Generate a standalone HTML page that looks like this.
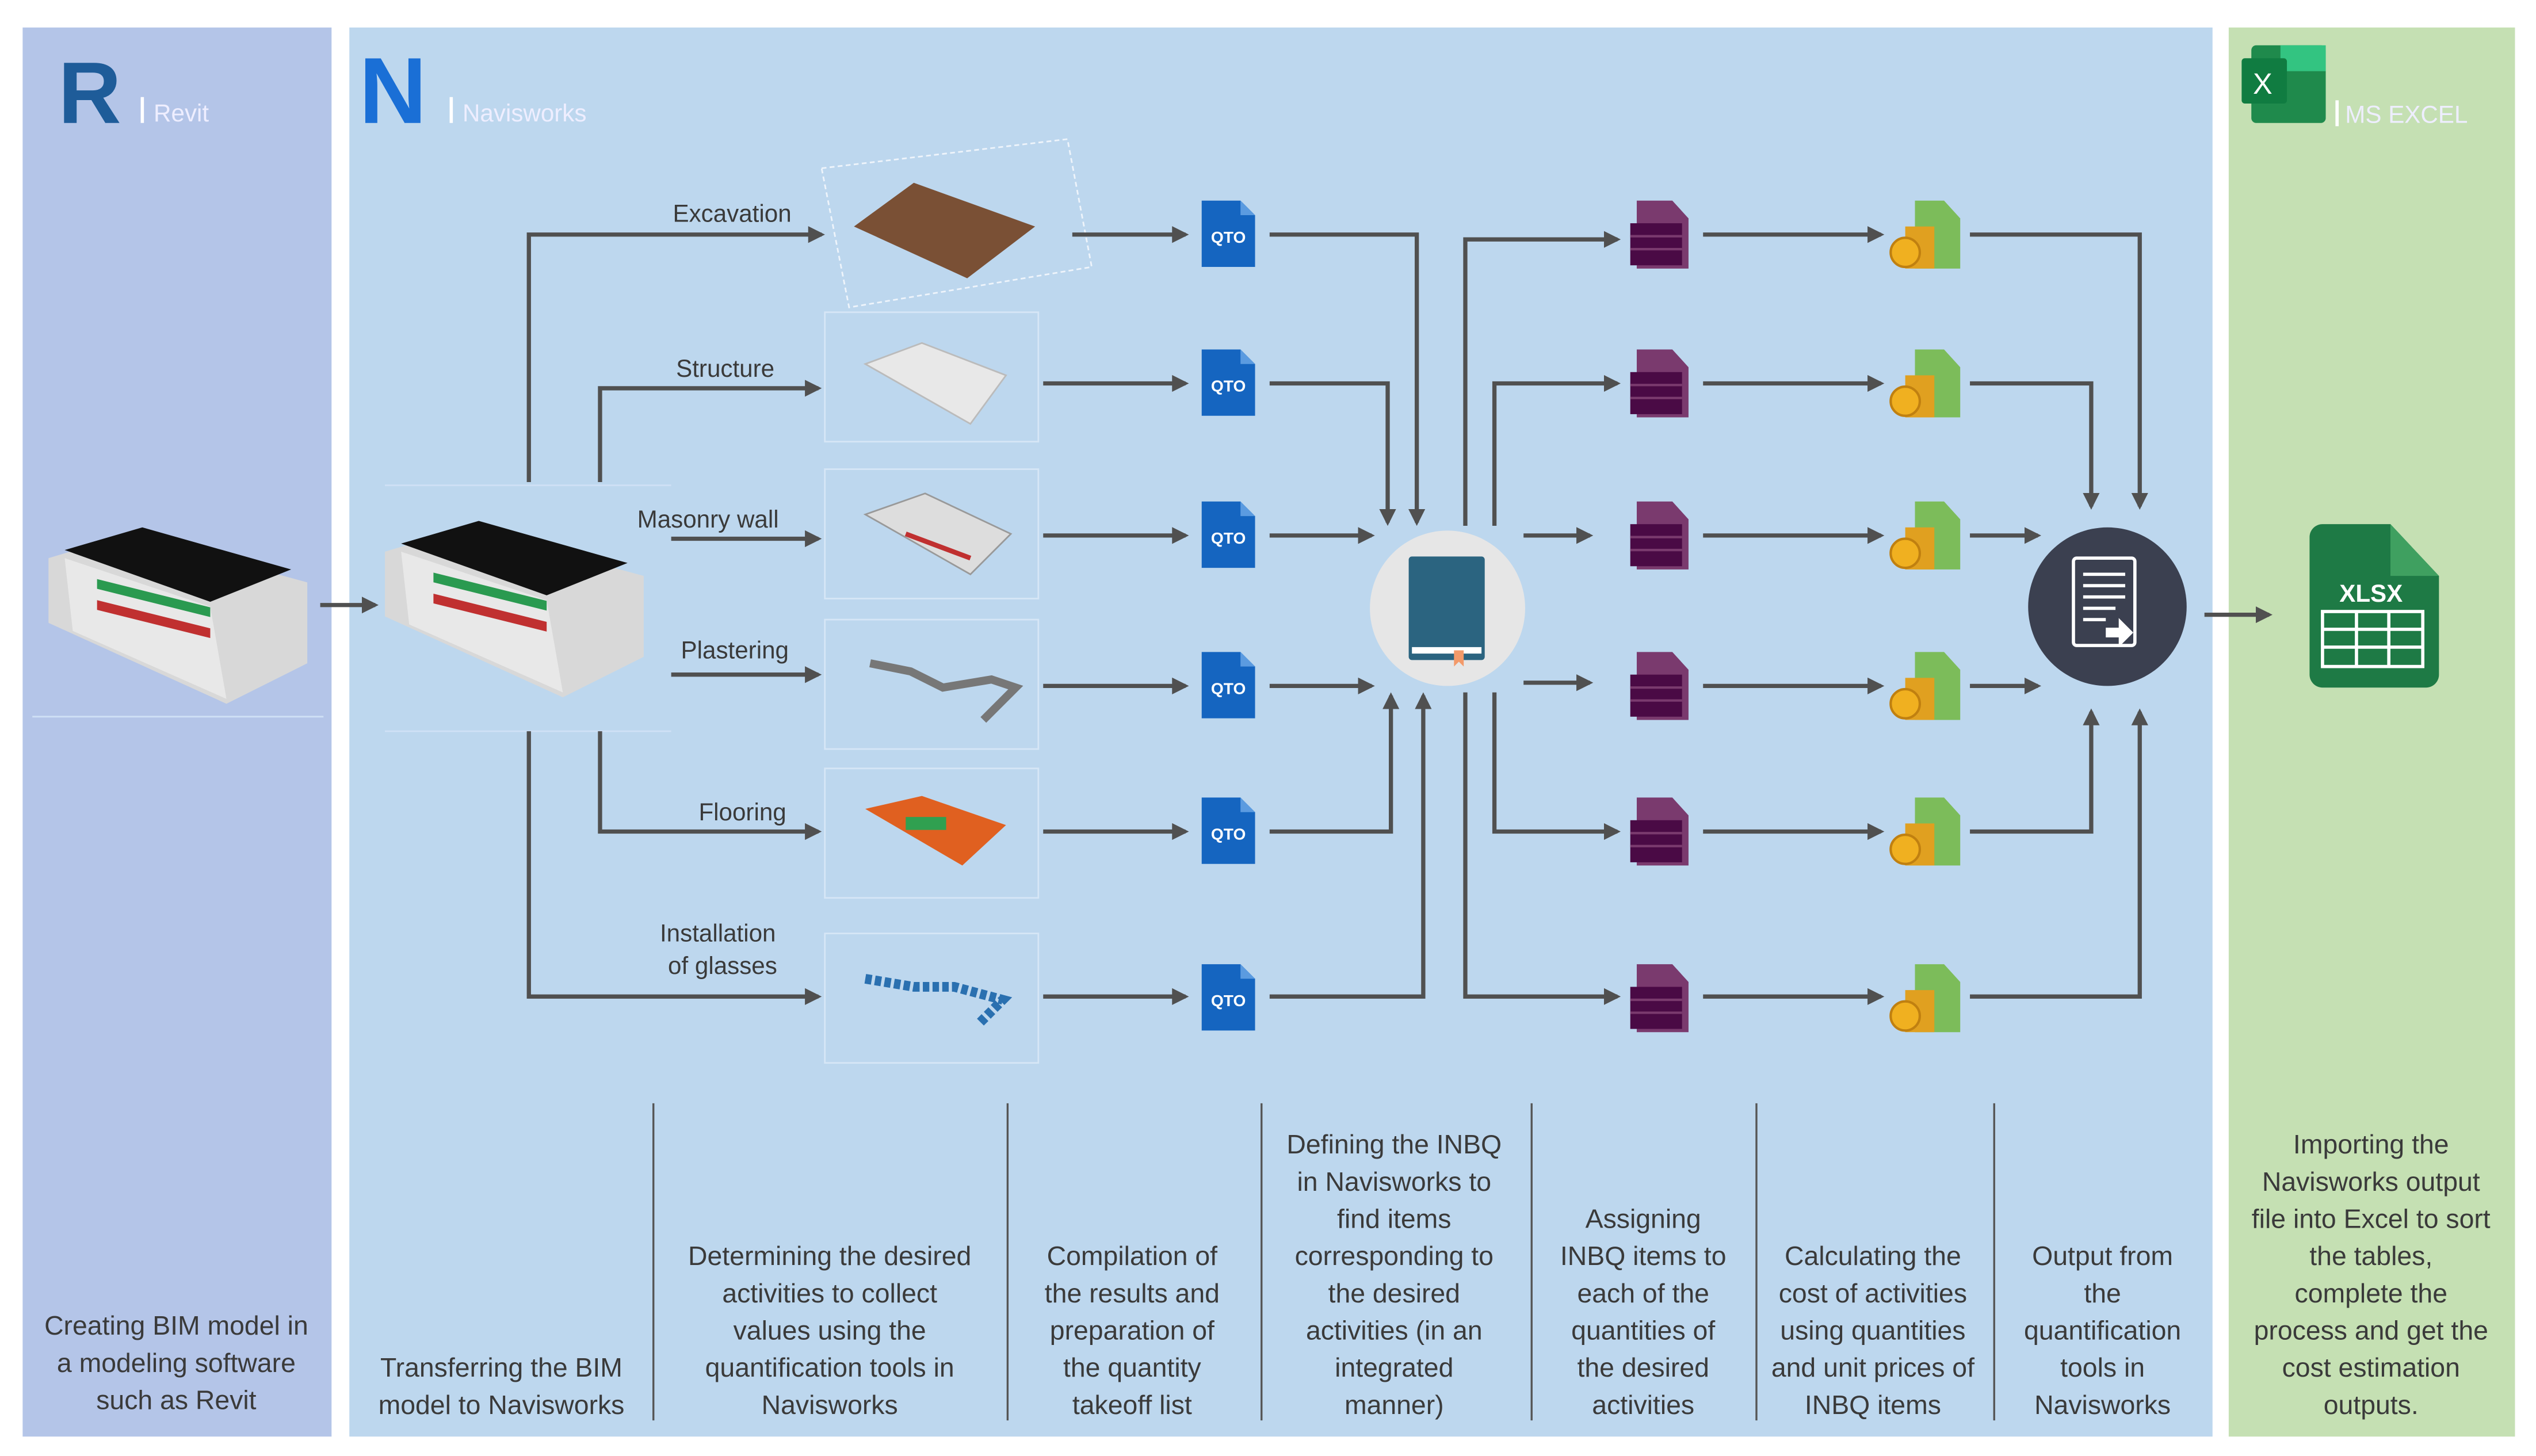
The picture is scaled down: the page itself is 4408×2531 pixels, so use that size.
<!DOCTYPE html>
<html><head><meta charset="utf-8">
<style>
html,body{margin:0;padding:0;background:#fff;}
svg{display:block;}
text{font-family:"Liberation Sans Narrow","Liberation Sans",sans-serif;fill:#3a3a3a;}
.b text{font-size:16.5px;text-anchor:middle;}
.l{font-size:15px;fill:#333;}
</style></head>
<body>
<svg width="4408" height="2531" viewBox="0 0 1568 900" preserveAspectRatio="none" xmlns="http://www.w3.org/2000/svg">
<defs>
<marker id="a" markerWidth="4" markerHeight="4" refX="3.2" refY="2" orient="auto" markerUnits="strokeWidth">
<path d="M0,0 L4,2 L0,4 z" fill="#505050"/></marker>
<g id="qto"><path d="M0,0 h24 l9,9 v32 h-33z" fill="#1565c0"/><path d="M24,0 l9,9 h-9z" fill="#5b9be0"/><text x="16.5" y="26" style="font-size:10px;font-weight:bold;fill:#fff;text-anchor:middle;font-family:'Liberation Sans',sans-serif">QTO</text></g>
<g id="pur"><path d="M4,0 h22 l10,11 v31 h-32z" fill="#7a3a6e"/><rect x="0" y="14" width="32" height="26" fill="#4a0a45"/><path d="M0,22h32M0,30h32" stroke="#7a3a6e" stroke-width="1.5"/></g>
<g id="mon"><path d="M14,0 h18 l10,11 v31 h-28z" fill="#7cbc5a"/><rect x="8" y="16" width="18" height="26" fill="#e0a020"/><circle cx="8" cy="32" r="9" fill="#f0b020" stroke="#c08010" stroke-width="1.5"/></g>
</defs>
<rect width="1568" height="900" fill="#fff"/>
<rect x="14" y="17" width="191" height="871" fill="#b4c5e8"/>
<rect x="216" y="17" width="1152" height="871" fill="#bdd7ee"/>
<rect x="1378" y="17" width="177" height="871" fill="#c5e0b3"/>

<!-- logos -->
<text x="36" y="76" style="font-size:54px;font-weight:bold;fill:#1e5c99;font-family:'Liberation Sans',sans-serif">R</text>
<rect x="87" y="60" width="2" height="16" fill="#fff"/><text x="95" y="75" style="font-size:15px;fill:#eef">Revit</text>
<text x="222" y="76" style="font-size:58px;font-weight:bold;fill:#1a6fd6;font-family:'Liberation Sans',sans-serif">N</text>
<rect x="278" y="60" width="2" height="16" fill="#fff"/><text x="286" y="75" style="font-size:15px;fill:#eef">Navisworks</text>
<rect x="1392" y="28" width="46" height="48" rx="3" fill="#1f8a4c"/><rect x="1410" y="28" width="28" height="16" fill="#33c481"/><rect x="1386" y="36" width="28" height="28" rx="2" fill="#107c41"/><text x="1393" y="58" style="font-size:18px;fill:#fff;font-family:'Liberation Sans',sans-serif">X</text>
<rect x="1444" y="62" width="2" height="16" fill="#fff"/><text x="1450" y="76" style="font-size:15px;fill:#eef">MS EXCEL</text>

<!-- buildings -->
<g id="bld"><polygon points="30,345 80,330 190,360 190,410 140,435 30,385" fill="#d8d8d8"/><polygon points="40,340 88,326 180,352 130,372" fill="#111"/><polygon points="40,345 130,375 140,432 45,390" fill="#e8e8e8"/><rect x="60" y="365" width="70" height="6" fill="#2a9a50" transform="skewY(14) translate(0,-22)"/><rect x="60" y="378" width="70" height="6" fill="#c03030" transform="skewY(14) translate(0,-22)"/></g>
<use href="#bld" x="208" y="-4"/>
<path d="M20,443H200M238,300H415M238,452H415" stroke="#cfe0f5" stroke-width="1"/>

<!-- feature images -->
<polygon points="508,104 660,86 675,165 525,190" fill="none" stroke="#eef4fb" stroke-dasharray="3,2"/>
<polygon points="528,140 565,113 640,140 598,172" fill="#7a5035"/>
<g fill="none" stroke="#d6e6f6"><rect x="510" y="193" width="132" height="80"/><rect x="510" y="290" width="132" height="80"/><rect x="510" y="383" width="132" height="80"/><rect x="510" y="475" width="132" height="80"/><rect x="510" y="577" width="132" height="80"/></g>
<polygon points="535,225 570,212 622,232 600,262" fill="#e8e8e8" stroke="#bbb"/>
<polygon points="535,318 572,305 625,330 600,355" fill="#ddd" stroke="#999"/><path d="M560,330l40,15" stroke="#c03030" stroke-width="3"/>
<path d="M538,410l25,5l20,10l30,-5l15,5l-20,20" stroke="#777" stroke-width="5" fill="none"/>
<polygon points="535,500 570,492 622,510 595,535" fill="#e06020"/><rect x="560" y="505" width="25" height="8" fill="#30a050"/>
<path d="M535,605l30,5l25,0l30,8l-15,15" stroke="#2a70b0" stroke-width="6" fill="none" stroke-dasharray="4,2"/>

<g class="l"><text x="416" y="137">Excavation</text><text x="418" y="233">Structure</text><text x="394" y="326">Masonry wall</text><text x="421" y="407">Plastering</text><text x="432" y="507">Flooring</text><text x="408" y="582">Installation</text><text x="413" y="602">of glasses</text></g>

<g stroke="#505050" stroke-width="2.6" fill="none" marker-end="url(#a)">
<path d="M198,374H232"/>
<path d="M327,298V145H508"/><path d="M371,298V240H506"/><path d="M415,333H506"/><path d="M415,417H506"/><path d="M371,452V514H506"/><path d="M327,452V616H506"/>
<path d="M663,145H733"/><path d="M645,237H733"/><path d="M645,331H733"/><path d="M645,424H733"/><path d="M645,514H733"/><path d="M645,616H733"/>
<path d="M785,145H876V323"/><path d="M785,237H858V323"/><path d="M785,331H848"/><path d="M785,424H848"/><path d="M785,514H860V430"/><path d="M785,616H880V430"/>
<path d="M906,325V148H1000"/><path d="M924,325V237H1000"/><path d="M942,331H983"/><path d="M942,422H983"/><path d="M924,428V514H1000"/><path d="M906,428V616H1000"/>
<path d="M1053,145H1163"/><path d="M1053,237H1163"/><path d="M1053,331H1163"/><path d="M1053,424H1163"/><path d="M1053,514H1163"/><path d="M1053,616H1163"/>
<path d="M1218,145H1323V313"/><path d="M1218,237H1293V313"/><path d="M1218,331H1260"/><path d="M1218,424H1260"/><path d="M1218,514H1293V440"/><path d="M1218,616H1323V440"/>
<path d="M1363,380H1403"/>
</g>

<use href="#qto" x="743" y="124"/><use href="#qto" x="743" y="216"/><use href="#qto" x="743" y="310"/><use href="#qto" x="743" y="403"/><use href="#qto" x="743" y="493"/><use href="#qto" x="743" y="596"/>
<use href="#pur" x="1008" y="124"/><use href="#pur" x="1008" y="216"/><use href="#pur" x="1008" y="310"/><use href="#pur" x="1008" y="403"/><use href="#pur" x="1008" y="493"/><use href="#pur" x="1008" y="596"/>
<use href="#mon" x="1170" y="124"/><use href="#mon" x="1170" y="216"/><use href="#mon" x="1170" y="310"/><use href="#mon" x="1170" y="403"/><use href="#mon" x="1170" y="493"/><use href="#mon" x="1170" y="596"/>

<circle cx="895" cy="376" r="48" fill="#e6e6e6"/>
<rect x="871" y="344" width="47" height="64" rx="2" fill="#2b6480"/><rect x="873" y="400" width="43" height="4" fill="#fff"/><path d="M899,402v10l3,-3l3,3v-10z" fill="#f39a6a"/>
<circle cx="1303" cy="375" r="49" fill="#3b4050"/>
<rect x="1282" y="345" width="38" height="54" rx="2" fill="none" stroke="#fff" stroke-width="2"/>
<path d="M1288,355h26M1288,362h26M1288,369h26M1288,376h20M1288,383h14" stroke="#fff" stroke-width="2"/><path d="M1302,388h8v-6l9,9l-9,9v-6h-8z" fill="#fff"/>

<path d="M1428,332a8,8 0 0 1 8,-8h42l30,32v61a8,8 0 0 1 -8,8h-64a8,8 0 0 1 -8,-8z" fill="#1e7a45"/><path d="M1478,324v32h30z" fill="#3fa060"/>
<text x="1466" y="372" style="font-size:15px;font-weight:bold;fill:#fff;text-anchor:middle;font-family:'Liberation Sans',sans-serif">XLSX</text>
<g stroke="#fff" stroke-width="2" fill="none"><rect x="1436" y="378" width="62" height="34"/><path d="M1436,389h62M1436,400h62M1457,378v34M1477,378v34"/></g>

<g stroke="#555" stroke-width="1.2"><path d="M404,682V878M623,682V878M780,682V878M947,682V878M1086,682V878M1233,682V878"/></g>

<g class="b">
<text x="109" y="825">Creating BIM model in</text><text x="109" y="848">a modeling software</text><text x="109" y="871">such as Revit</text>
<text x="310" y="851">Transferring the BIM</text><text x="310" y="874">model to Navisworks</text>
<text x="513" y="782">Determining the desired</text><text x="513" y="805">activities to collect</text><text x="513" y="828">values using the</text><text x="513" y="851">quantification tools in</text><text x="513" y="874">Navisworks</text>
<text x="700" y="782">Compilation of</text><text x="700" y="805">the results and</text><text x="700" y="828">preparation of</text><text x="700" y="851">the quantity</text><text x="700" y="874">takeoff list</text>
<text x="862" y="713">Defining the INBQ</text><text x="862" y="736">in Navisworks to</text><text x="862" y="759">find items</text><text x="862" y="782">corresponding to</text><text x="862" y="805">the desired</text><text x="862" y="828">activities (in an</text><text x="862" y="851">integrated</text><text x="862" y="874">manner)</text>
<text x="1016" y="759">Assigning</text><text x="1016" y="782">INBQ items to</text><text x="1016" y="805">each of the</text><text x="1016" y="828">quantities of</text><text x="1016" y="851">the desired</text><text x="1016" y="874">activities</text>
<text x="1158" y="782">Calculating the</text><text x="1158" y="805">cost of activities</text><text x="1158" y="828">using quantities</text><text x="1158" y="851">and unit prices of</text><text x="1158" y="874">INBQ items</text>
<text x="1300" y="782">Output from</text><text x="1300" y="805">the</text><text x="1300" y="828">quantification</text><text x="1300" y="851">tools in</text><text x="1300" y="874">Navisworks</text>
<text x="1466" y="713">Importing the</text><text x="1466" y="736">Navisworks output</text><text x="1466" y="759">file into Excel to sort</text><text x="1466" y="782">the tables,</text><text x="1466" y="805">complete the</text><text x="1466" y="828">process and get the</text><text x="1466" y="851">cost estimation</text><text x="1466" y="874">outputs.</text>
</g>
</svg>
</body></html>
